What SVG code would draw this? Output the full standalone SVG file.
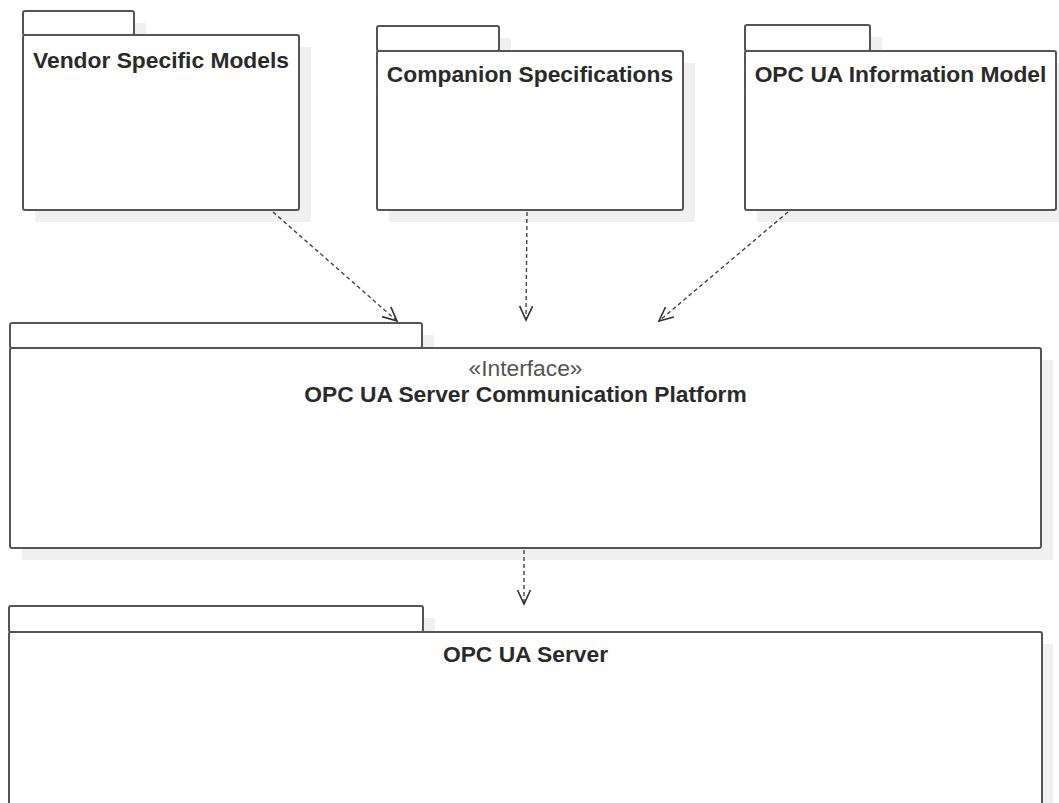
<svg xmlns="http://www.w3.org/2000/svg" width="1059" height="803" viewBox="0 0 1059 803">
<style>
.sh{fill:#f0f0f0;stroke:none}
.box{fill:#ffffff;stroke:#555555;stroke-width:2}
.t{font-family:"Liberation Sans",Arial,sans-serif;font-size:22.8px;font-weight:bold;fill:#2a2a2a;text-anchor:middle}
.st{font-family:"Liberation Sans",Arial,sans-serif;font-size:22.8px;fill:#555555;text-anchor:middle}
.dep{fill:none;stroke:#444444;stroke-width:1.4;stroke-dasharray:4 3}
</style>
<defs>
<marker id="open" markerUnits="userSpaceOnUse" markerWidth="20" markerHeight="20" viewBox="-16 -10 20 20" refX="0" refY="0" orient="auto">
<path d="M-14,-6.5 L0,0 L-14,6.5" fill="none" stroke="#333333" stroke-width="1.6"/>
</marker>
</defs>
<rect width="1059" height="803" fill="#ffffff"/>

<g id="vendor">
<rect class="sh" x="35" y="23" width="111" height="24"/>
<rect class="sh" x="35" y="47" width="276" height="175"/>
<rect class="box" x="23" y="11" width="111" height="24" rx="2"/>
<rect class="box" x="23" y="35" width="276" height="175" rx="2"/>
<text class="t" x="161" y="68">Vendor Specific Models</text>
</g>

<g id="companion">
<rect class="sh" x="389" y="38" width="122" height="25"/>
<rect class="sh" x="389" y="63" width="306" height="159"/>
<rect class="box" x="377" y="26" width="122" height="25" rx="2"/>
<rect class="box" x="377" y="51" width="306" height="159" rx="2"/>
<text class="t" x="530" y="82">Companion Specifications</text>
</g>

<g id="infomodel">
<rect class="sh" x="757" y="37" width="125" height="26"/>
<rect class="sh" x="757" y="63" width="311" height="159"/>
<rect class="box" x="745" y="25" width="125" height="26" rx="2"/>
<rect class="box" x="745" y="51" width="311" height="159" rx="2"/>
<text class="t" x="900.5" y="82">OPC UA Information Model</text>
</g>

<g id="platform">
<rect class="sh" x="22" y="335" width="412" height="25"/>
<rect class="sh" x="22" y="360" width="1031" height="200"/>
<rect class="box" x="10" y="323" width="412" height="25" rx="2"/>
<rect class="box" x="10" y="348" width="1031" height="200" rx="2"/>
<text class="st" x="525.5" y="376">«Interface»</text>
<text class="t" x="525.5" y="402">OPC UA Server Communication Platform</text>
</g>

<g id="server">
<rect class="sh" x="21" y="618" width="414" height="26"/>
<rect class="sh" x="21" y="644" width="1032" height="200"/>
<rect class="box" x="9" y="606" width="414" height="26" rx="2"/>
<rect class="box" x="9" y="632" width="1033" height="200" rx="2"/>
<text class="t" x="525.5" y="662">OPC UA Server</text>
</g>

<g id="connectors">
<line class="dep" x1="273" y1="212" x2="397" y2="321" marker-end="url(#open)"/>
<line class="dep" x1="527" y1="212" x2="526" y2="320" marker-end="url(#open)"/>
<line class="dep" x1="788" y1="212" x2="659" y2="321" marker-end="url(#open)"/>
<line class="dep" x1="524" y1="550" x2="524" y2="604" marker-end="url(#open)"/>
</g>
</svg>
